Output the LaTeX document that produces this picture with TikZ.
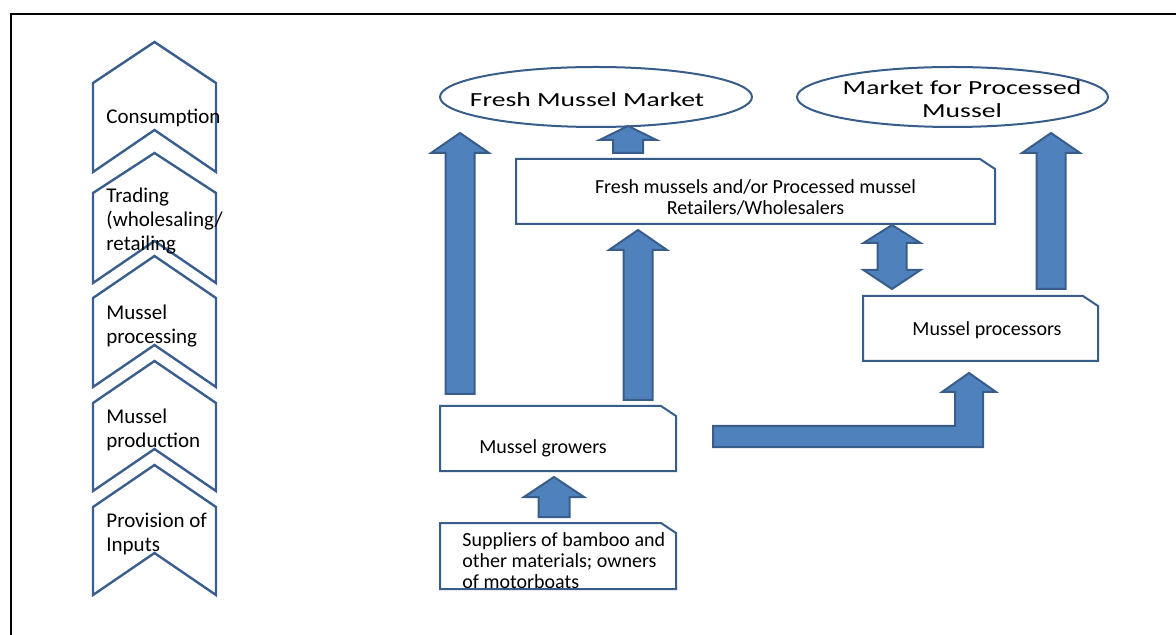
\documentclass[tikz,border=0pt]{standalone}
\usepackage{fontspec}
\setmainfont{Carlito}
\newfontfamily\widefont[FakeStretch=1.38]{Carlito}
\usetikzlibrary{shapes.geometric}
\definecolor{chevblue}{HTML}{3A5F8F}
\definecolor{arrfill}{HTML}{4F81BD}
\definecolor{arrline}{HTML}{385D8A}
\tikzset{
  chev/.style={draw=chevblue, line width=1.2pt, line join=miter},
  snipbox/.style={draw=arrline, line width=1pt, fill=white},
  blockarrow/.style={draw=arrline, line width=1pt, fill=arrfill, line join=miter},
  mkt/.style={ellipse, draw=arrline, line width=1pt, inner sep=0pt},
  chevtext/.style={anchor=west, align=left, inner sep=0pt, font=\fontsize{10.5}{12}\selectfont},
  boxtext/.style={inner sep=0pt, font=\fontsize{10}{10.5}\selectfont},
  mkttext/.style={inner sep=0pt, align=center, font=\widefont\fontsize{10}{11.5}\selectfont}
}
\newcommand{\chevshape}[4]{% apex, shoulder, notch, bottom
  \draw[chev] (93,#2) -- (154.5,#1) -- (216,#2) -- (216,#4) -- (154.5,#3) -- (93,#4) -- cycle;}
\newcommand{\blockup}[6]{% cx, tip, headbase, bottom, head hw, shaft hw
  \draw[blockarrow] (#1,#2) -- (#1+#5,#3) -- (#1+#6,#3) -- (#1+#6,#4) -- (#1-#6,#4) -- (#1-#6,#3) -- (#1-#5,#3) -- cycle;}
\newcommand{\snip}[4]{% left, top, right, bottom
  \draw[snipbox] (#1,#2) -- (#3-15,#2) -- (#3,#2+10) -- (#3,#4) -- (#1,#4) -- cycle;}
\begin{document}
\begin{tikzpicture}[x=0.5pt,y=-0.5pt]
\useasboundingbox (0,0) rectangle (1176,635);
% outer frame (top and left visible)
\draw[line width=1.2pt, black] (11,635) -- (11,14) -- (1176,14);

% left chevrons
\chevshape{42}{83}{130}{172}
\chevshape{153}{193}{241}{283}
\chevshape{256}{298}{345}{387}
\chevshape{361}{403}{449}{491}
\chevshape{465}{507}{553}{595}
\node[chevtext] (c1) at (106,118) {Consumption};
\node[chevtext] (c2) at (106,221) {Trading\\(wholesaling/\\retailing};
\node[chevtext] (c3) at (106,326) {Mussel\\processing};
\node[chevtext] (c4) at (106,430) {Mussel\\production};
\node[chevtext] (c5) at (106,534) {Provision of\\Inputs};

% markets
\node[mkt, minimum width=156pt, minimum height=30pt] (fresh) at (596,97) {};
\node[mkttext] (freshT) at (587,100) {Fresh Mussel Market};
\node[mkt, minimum width=155.5pt, minimum height=30pt] (proc) at (952.5,97) {};
\node[mkttext] (procT) at (962,99.5) {Market for Processed\\Mussel};

% boxes
\snip{516}{159}{995}{224}
\node[boxtext, align=center] (retail) at (755.5,197) {Fresh mussels and/or Processed mussel\\Retailers/Wholesalers};
\snip{863}{296}{1098}{361}
\node[boxtext] (processors) at (987,330) {Mussel processors};
\snip{440}{406}{676}{471}
\node[boxtext] (growers) at (543,448) {Mussel growers};
\snip{440}{523}{676}{589}
\node[boxtext, anchor=north west, align=left] (suppliers) at (462,532) {Suppliers of bamboo and\\other materials; owners\\of motorboats};

% block arrows
\blockup{460}{133}{153}{394}{29}{14.5}
\blockup{628}{126}{140}{153}{28.5}{15}
\blockup{638}{230}{250}{400}{29}{14.5}
\blockup{1051}{133}{153}{289}{29}{14.5}
\blockup{554}{477}{497}{517}{30}{15.5}
% double arrow
\draw[blockarrow] (892,225) -- (920.5,243) -- (906.5,243) -- (906.5,270) -- (920.5,270) -- (892,289)
  -- (863.5,270) -- (877.5,270) -- (877.5,243) -- (863.5,243) -- cycle;
% bent arrow
\draw[blockarrow] (713,426) -- (955,426) -- (955,392) -- (942,392) -- (969,373) -- (996,392)
  -- (983,392) -- (983,447) -- (713,447) -- cycle;
\end{tikzpicture}
\end{document}
